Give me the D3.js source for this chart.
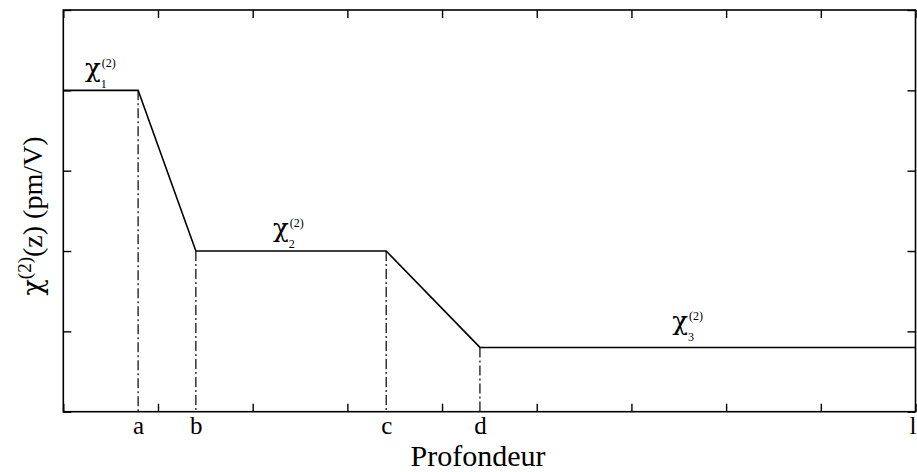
<!DOCTYPE html>
<html>
<head>
<meta charset="utf-8">
<script src="https://cdn.jsdelivr.net/npm/d3@7"></script>
<style>
  html, body { margin: 0; padding: 0; background: #fff; }
  svg text { font-family: "Liberation Serif", "Times New Roman", serif; fill: #000; }
  svg .greek { font-family: "DejaVu Serif", serif; }
</style>
</head>
<body>
<svg id="chart" width="917" height="472"></svg>
<script>
// Depth profile of the second-order susceptibility chi(2)(z)
const profileDepth = [0, 0.79, 1.40, 3.41, 4.40, 9];
const profileChi   = [4.0, 4.0, 2.0, 2.0, 0.8, 0.8];

// Named depths marked on the axis (with dash-dot drop lines for a..d)
const depthNames  = ["a", "b", "c", "d", "l"];
const depthValues = [0.79, 1.40, 3.41, 4.40, 9];

// Plateau annotations: index, anchor depth, anchor chi (baseline of the chi glyph)
const plateauIndex = ["1", "2", "3"];
const plateauDepth = [0.23, 2.215, 6.43];
const plateauChi   = [4.166, 2.175, 1.017];

// Tick positions (unlabelled)
const xTicks = d3.range(0, 10);
const yTicks = d3.range(0, 6);

const W = 917, H = 472;
const margin = { top: 10, right: 1.5, bottom: 60.3, left: 63.3 };
const svg = d3.select("#chart");
const g = svg.append("g").attr("transform", `translate(${margin.left},${margin.top})`);
const iw = W - margin.left - margin.right;
const ih = H - margin.top - margin.bottom;

const x = d3.scaleLinear().domain([0, 9]).range([0, iw]);
const y = d3.scaleLinear().domain([0, 5]).range([ih, 0]);

const TICK = 8;
function styleAxis(sel) {
  sel.select(".domain").remove();
  sel.selectAll(".tick line").attr("stroke", "#000").attr("stroke-width", 1.4);
}

// Inward ticks on all four sides
g.append("g").attr("transform", `translate(0,${ih})`)
  .call(d3.axisBottom(x).tickValues(xTicks).tickSize(-TICK).tickFormat(""))
  .call(styleAxis);
g.append("g")
  .call(d3.axisTop(x).tickValues(xTicks).tickSize(-TICK).tickFormat(""))
  .call(styleAxis);
g.append("g")
  .call(d3.axisLeft(y).tickValues(yTicks).tickSize(-TICK).tickFormat(""))
  .call(styleAxis);
g.append("g").attr("transform", `translate(${iw},0)`)
  .call(d3.axisRight(y).tickValues(yTicks).tickSize(-TICK).tickFormat(""))
  .call(styleAxis);

// Named depth labels under the axis
const nameAxis = g.append("g").attr("transform", `translate(0,${ih})`)
  .call(d3.axisBottom(x).tickValues(depthValues).tickSize(0).tickPadding(5)
    .tickFormat((d, i) => depthNames[i]));
nameAxis.select(".domain").remove();
nameAxis.attr("font-family", null);
nameAxis.selectAll("text")
  .attr("font-size", 25)
  .attr("fill", "#000")
  .attr("dx", (d, i) => i === depthNames.length - 1 ? -3 : 0);

// Frame
g.append("rect")
  .attr("x", 0).attr("y", 0).attr("width", iw).attr("height", ih)
  .attr("fill", "none").attr("stroke", "#000").attr("stroke-width", 1.6);

// Dash-dot drop lines from each break point to the depth axis
const breaks = profileDepth.slice(1, 5).map((d, i) => ({ d, c: profileChi[i + 1] }));
g.selectAll("line.drop").data(breaks).join("line")
  .attr("class", "drop")
  .attr("x1", p => x(p.d)).attr("x2", p => x(p.d))
  .attr("y1", p => y(p.c)).attr("y2", ih)
  .attr("stroke", "#000").attr("stroke-width", 1.2)
  .attr("stroke-dasharray", "10,3,2,3");

// Profile
const line = d3.line().x(d => x(d[0])).y(d => y(d[1]));
g.append("path")
  .datum(profileDepth.map((d, i) => [d, profileChi[i]]))
  .attr("d", line)
  .attr("fill", "none").attr("stroke", "#000").attr("stroke-width", 1.6);

// Plateau labels chi_i^(2)
plateauIndex.forEach((k, i) => {
  const px = x(plateauDepth[i]), py = y(plateauChi[i]);
  const chi = g.append("text").attr("class", "greek").attr("x", px).attr("y", py)
    .attr("font-size", 26).text("χ");
  const w = chi.node().getComputedTextLength();
  g.append("text").attr("x", px + w).attr("y", py + 11)
    .attr("font-size", 12).text(k);
  g.append("text").attr("x", px + w + 1).attr("y", py - 10)
    .attr("font-size", 12).text("(2)");
});

// Axis titles
svg.append("text")
  .attr("x", 478).attr("y", 466)
  .attr("text-anchor", "middle").attr("font-size", 30)
  .text("Profondeur");

const yl = svg.append("text")
  .attr("transform", `translate(42,${margin.top + 206}) rotate(-90)`)
  .attr("text-anchor", "middle").attr("font-size", 28);
yl.append("tspan").attr("class", "greek").attr("font-size", 27).text("χ");
yl.append("tspan").attr("font-size", 19).attr("dy", -11).text("(2)");
yl.append("tspan").attr("dy", 11).text("(z) (pm/V)");
</script>
</body>
</html>
